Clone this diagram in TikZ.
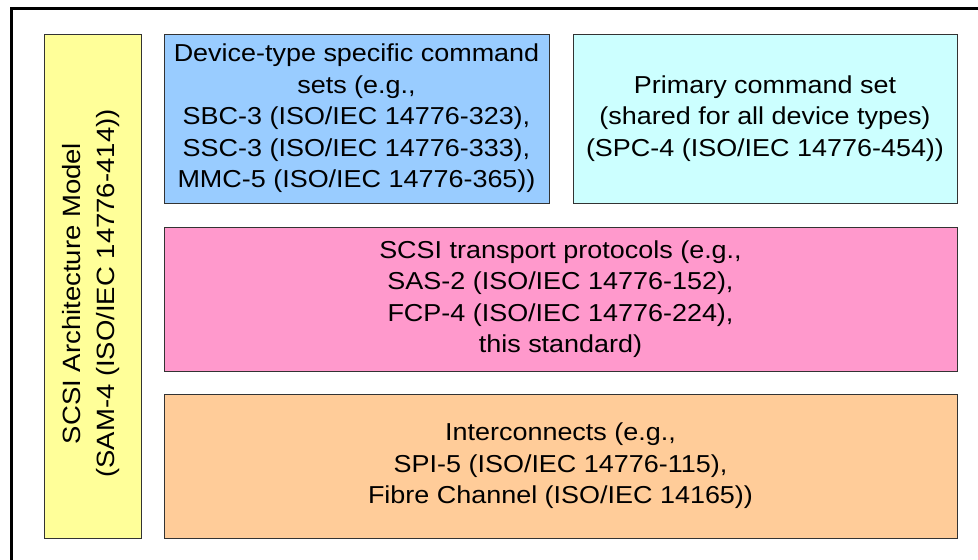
\documentclass[tikz,border=0pt]{standalone}
\usepackage{fontspec}
\setmainfont{Liberation Sans}
\newfontfamily\widesans[FakeStretch=1.1]{Liberation Sans}
\usepackage{tikz}
\usetikzlibrary{shadows}
\definecolor{samyellow}{HTML}{FFFF99}
\definecolor{cmdblue}{HTML}{99CCFF}
\definecolor{primcyan}{HTML}{CCFFFF}
\definecolor{transpink}{HTML}{FF99CC}
\definecolor{icorange}{HTML}{FFCC99}
\definecolor{edgegray}{HTML}{333333}

\begin{document}
\begin{tikzpicture}[
    x=1pt, y=-1pt,
    layerbox/.style={
      draw=edgegray, line width=0.9pt, fill=#1,
      drop shadow={shadow xshift=1.2pt, shadow yshift=-1.2pt, fill=black!30, opacity=1},
      font=\widesans\fontsize{24.5}{31.5}\selectfont, align=center, inner sep=0pt,
    },
  ]
  \useasboundingbox (0,0) rectangle (978,560);

  % outer frame (runs off the page on the right and at the bottom)
  \begin{scope}
    \clip (0,0) rectangle (978,560);
    \draw[line width=3pt] (11,570) -- (11,8) -- (990,8);
  \end{scope}

  % architecture model column
  \node[layerbox=samyellow, minimum width=97pt, minimum height=504pt] (sam) at (92.5,286) {};
  \node[rotate=90, font=\widesans\fontsize{25}{34}\selectfont, align=center] (samtxt) at (91.5,293.5)
    {SCSI Architecture Model\\(SAM-4 (ISO/IEC 14776-414))};

  % command sets
  \node[layerbox=cmdblue, minimum width=385pt, minimum height=169pt] (devcmd) at (356.5,118.5)
    {Device-type specific command\\sets (e.g.,\\SBC-3 (ISO/IEC 14776-323),\\SSC-3 (ISO/IEC 14776-333),\\MMC-5 (ISO/IEC 14776-365))};
  \node[layerbox=primcyan, minimum width=384pt, minimum height=169pt] (primcmd) at (765,118.5)
    {Primary command set\\(shared for all device types)\\(SPC-4 (ISO/IEC 14776-454))};

  % transport protocols
  \node[layerbox=transpink, minimum width=793pt, minimum height=144pt] (transport) at (560.5,299)
    {SCSI transport protocols (e.g.,\\SAS-2 (ISO/IEC 14776-152),\\FCP-4 (ISO/IEC 14776-224),\\this standard)};

  % interconnects
  \node[layerbox=icorange, minimum width=793pt, minimum height=144pt] (icon) at (560.5,466)
    {Interconnects (e.g.,\\SPI-5 (ISO/IEC 14776-115),\\Fibre Channel (ISO/IEC 14165))};

\end{tikzpicture}
\end{document}
